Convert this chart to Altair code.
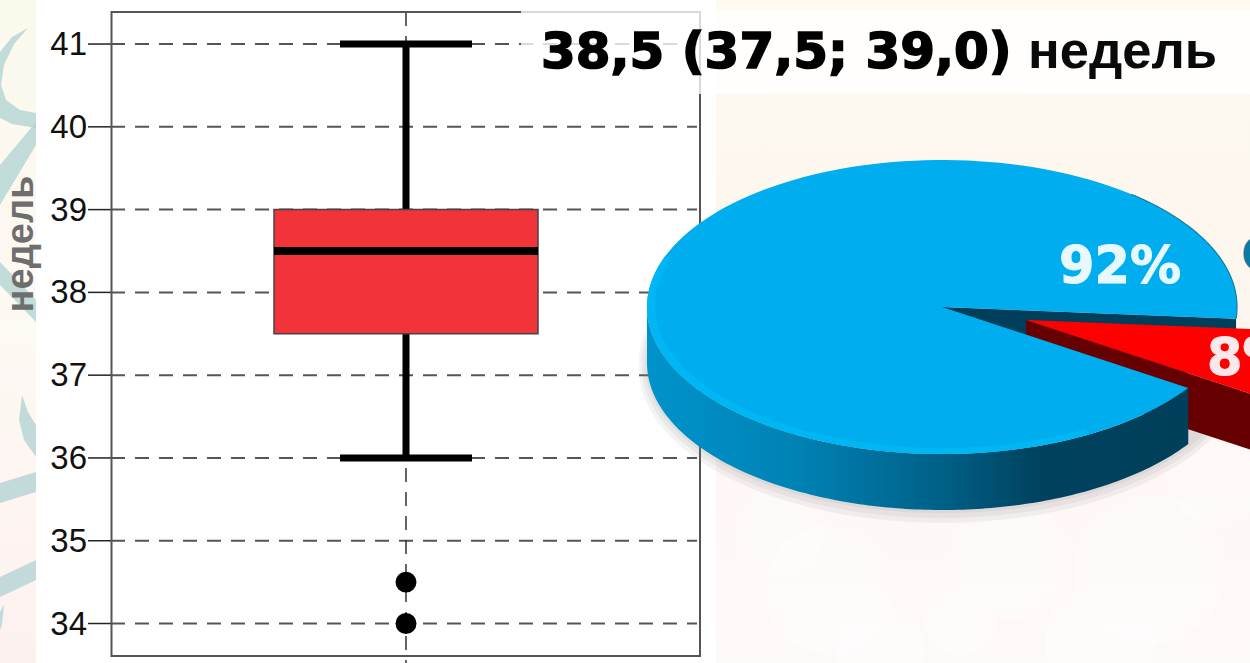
import numpy as np
import altair as alt

# Box plot summary, in weeks
group_pos = [0.0]
box_q1 = [37.5]
box_median = [38.5]
box_q3 = [39.0]
whisker_low = [36.0]
whisker_high = [41.0]
outliers = [34.5, 34.0]
y_ticks = [34, 35, 36, 37, 38, 39, 40, 41]

# Pie shares, percent
pie_labels = ["92%", "8%"]
pie_shares = [92, 8]

W, H = 1250, 663

# Scales stretch over the whole canvas so the panel and the pie can share it
y_scale = alt.Scale(domain=[41.532, 33.523], range=[0, H], nice=False, zero=False)
x_scale = alt.Scale(domain=[-406 / 264, 844 / 264], range=[0, W], nice=False, zero=False)


def one_row(**kw):
    return alt.Data(values=[kw])


def px_rect(x0, x1, y0, y1, **mark):
    return alt.Chart(one_row(k=1)).mark_rect(**mark).encode(
        x=alt.value(x0), x2=alt.value(x1), y=alt.value(y0), y2=alt.value(y1)
    )


def px_text(text, x, y, **mark):
    return alt.Chart(one_row(k=1)).mark_text(**mark).encode(
        x=alt.value(x), y=alt.value(y), text=alt.value(text)
    )


def vertical(field_values, name):
    return alt.Data(values=[{name: v} for v in field_values])


# ---- geometry of the tilted pie, built from the shares ----
CX, CY, RX, RY, DEPTH = 942.0, 307.0, 295.0, 147.0, 56.0
GAP_START = 4.6
GAP_END = GAP_START + pie_shares[1] / sum(pie_shares) * 360
DX, DY = 84.0, 13.0  # pull-out of the small slice


def arc(a0, a1, cx=CX, cy=CY, rx=RX, ry=RY, dy=0.0, n=160):
    t = np.radians(np.linspace(a0, a1, n))
    return [[float(cx + rx * np.cos(v)), float(cy + ry * np.sin(v) + dy)] for v in t]


def feature(coords, kind="Polygon"):
    geom = coords if kind == "LineString" else [coords + [coords[0]]]
    return {"type": "Feature", "properties": {}, "geometry": {"type": kind, "coordinates": geom}}


def shape(coords, kind="Polygon", **mark):
    return alt.Chart(alt.Data(values=[feature(coords, kind)])).mark_geoshape(clip=True, **mark).project(
        type="identity", scale=1, translate=[0, 0]
    )


blue_top = [[CX, CY]] + arc(GAP_END, GAP_START + 360)
blue_side = arc(GAP_END, 180) + arc(180, GAP_END, dy=DEPTH)
e1 = arc(GAP_START, GAP_START, n=1)[0]
blue_wall = [[CX, CY], e1, [e1[0], e1[1] + DEPTH], [CX, CY + DEPTH]]
rim = arc(60, 200) + arc(200, 60, rx=RX - 8, ry=RY - 4, cy=CY - 2)

rcx, rcy = CX + DX, CY + DY
red_top = [[rcx, rcy]] + arc(GAP_START, GAP_END, cx=rcx, cy=rcy)
e2 = arc(GAP_END, GAP_END, cx=rcx, cy=rcy, n=1)[0]
red_side = [[rcx, rcy], e2, [e2[0], e2[1] + DEPTH], [rcx, rcy + DEPTH]]
rim_edge = arc(310, GAP_START + 360)

side_fill = alt.Gradient(
    gradient="linear", x1=0, x2=1, y1=0, y2=0,
    stops=[
        alt.GradientStop(color="#0093cb", offset=0),
        alt.GradientStop(color="#0082b4", offset=0.28),
        alt.GradientStop(color="#005f86", offset=0.55),
        alt.GradientStop(color="#00435f", offset=0.72),
        alt.GradientStop(color="#003f5a", offset=1),
    ],
)
back_fill = alt.Gradient(
    gradient="linear", x1=0, x2=0, y1=0, y2=1,
    stops=[
        alt.GradientStop(color="#fefaf0", offset=0),
        alt.GradientStop(color="#fdf6ee", offset=0.45),
        alt.GradientStop(color="#fef7f6", offset=0.75),
        alt.GradientStop(color="#fef9f9", offset=1),
    ],
)
band_fill = alt.Gradient(
    gradient="linear", x1=0, x2=0, y1=0, y2=1,
    stops=[
        alt.GradientStop(color="#fbf8ec", offset=0),
        alt.GradientStop(color="#fdf9f3", offset=0.5),
        alt.GradientStop(color="#fdf1f0", offset=1),
    ],
)

# ---- slide backdrop ----
swirl_color = "#aed2d2"
swirls = [
    [[28, 28], [12, 37], [0, 52], [0, 118], [12, 124], [36, 128], [36, 113], [20, 110], [6, 100], [1, 85], [4, 65], [14, 44]],
    [[36, 122], [0, 165], [0, 205], [36, 145]],
    [[0, 262], [36, 300], [36, 322], [0, 285]],
    [[22, 395], [19, 420], [24, 440], [36, 457], [36, 425], [28, 412]],
    [[0, 483], [36, 472], [36, 492], [0, 503]],
    [[0, 577], [36, 560], [36, 580], [0, 597]],
    [[0, 612], [4, 604], [2, 625], [0, 630]],
]
blob_x = [830, 1010, 1150, 880, 1100, 960, 780, 1220]
blob_y = [590, 560, 570, 650, 640, 620, 530, 470]
blob_r = [65, 60, 75, 45, 55, 35, 45, 55]

backdrop = [px_rect(0, W, 0, H, fill=back_fill)]
backdrop += [
    shape(arc(0, 360, cx=a, cy=b, rx=c, ry=c, n=60), fill="#ffffff", opacity=0.3, stroke=None)
    for a, b, c in zip(blob_x, blob_y, blob_r)
]
backdrop += [px_rect(0, 36, 0, H, fill=band_fill)]
backdrop += [shape(s, fill=swirl_color, opacity=0.75, stroke=None) for s in swirls]
backdrop += [px_rect(36, 716, 0, H, fill="#ffffff")]

# ---- box plot panel ----
Y = lambda f: alt.Y(f, scale=y_scale, axis=None)
X = lambda f: alt.X(f, scale=x_scale, axis=None)

grid = alt.Chart(vertical(y_ticks, "tick")).mark_rule(
    color="#555555", strokeWidth=2, strokeDash=[14, 10], clip=True
).encode(y=Y("tick:Q"), x=alt.value(111), x2=alt.value(697))

# The value axis is laid out by hand so it can sit inside the wide canvas
tick_marks = alt.Chart(vertical(y_ticks, "tick")).mark_rule(color="#222222", strokeWidth=1.5).encode(
    y=Y("tick:Q"), x=alt.value(88), x2=alt.value(112)
)
tick_labels = alt.Chart(vertical(y_ticks, "tick")).mark_text(
    font="Liberation Sans", fontSize=33, color="#111111", align="right", baseline="middle", dy=1
).encode(y=Y("tick:Q"), x=alt.value(87), text=alt.Text("tick:Q", format="d"))

center_line = alt.Chart(vertical(group_pos, "pos")).mark_rule(
    color="#333333", strokeWidth=1.5, strokeDash=[14, 10]
).encode(x=X("pos:Q"), y=alt.value(12), y2=alt.value(663))

frame = px_rect(111.5, 700, 12, 656, fill="transparent", stroke="#555555", strokeWidth=2)

summary = alt.Data(values=[{
    "pos": p, "q1": a, "med": b, "q3": c, "lo": d, "hi": e, "left": p - 0.5, "right": p + 0.5,
    "capl": p - 0.25, "capr": p + 0.25,
} for p, a, b, c, d, e in zip(group_pos, box_q1, box_median, box_q3, whisker_low, whisker_high)])

whisker = alt.Chart(summary).mark_rule(color="black", strokeWidth=7).encode(
    x=X("pos:Q"), y=Y("lo:Q"), y2="hi:Q"
)
cap_top = alt.Chart(summary).mark_rule(color="black", strokeWidth=7).encode(
    x=X("capl:Q"), x2="capr:Q", y=Y("hi:Q")
)
cap_bottom = alt.Chart(summary).mark_rule(color="black", strokeWidth=7).encode(
    x=X("capl:Q"), x2="capr:Q", y=Y("lo:Q")
)
box = alt.Chart(summary).mark_rect(fill="#f2333a", stroke="#444444", strokeWidth=1.5).encode(
    x=X("left:Q"), x2="right:Q", y=Y("q3:Q"), y2="q1:Q"
)
median = alt.Chart(summary).mark_rule(color="black", strokeWidth=8).encode(
    x=X("left:Q"), x2="right:Q", y=Y("med:Q")
)
points = alt.Chart(alt.Data(values=[{"pos": group_pos[0], "w": v} for v in outliers])).mark_point(
    filled=True, color="black", size=440, opacity=1
).encode(x=X("pos:Q"), y=Y("w:Q"))

panel = [grid, tick_marks, tick_labels, center_line, frame, whisker, cap_top, cap_bottom, box, median, points]
panel.append(px_text("недель", 33, 244, font="Liberation Sans", fontWeight="bold", fontSize=38,
                     color="#6e6e6e", angle=270, align="center", baseline="alphabetic"))

# ---- heading strip ----
heading = [
    px_rect(521, W, 10, 94, fill="#ffffff", opacity=0.78),
    px_text("38,5 (37,5; 39,0)", 541, 68, font="DejaVu Sans", fontWeight="bold", fontSize=50,
            color="#000000", stroke="#000000", strokeWidth=1.6, align="left", baseline="alphabetic"),
    px_text("недель", 1028, 68, font="Liberation Sans", fontWeight="bold", fontSize=52.5,
            color="#0a0a0a", align="left", baseline="alphabetic"),
]

# ---- pie ----
shadow = [
    shape(arc(0, 180, rx=RX + g, ry=RY + g, dy=DEPTH + g * 0.6) + arc(180, 360, rx=RX + g, ry=RY + g, dy=DEPTH),
          fill="#8a8a8a", opacity=0.1, stroke=None)
    for g in (8, 5, 2)
]
pie = shadow + [
    shape(blue_wall, fill="#003f5c", stroke=None),
    shape(red_side, fill="#660000", stroke=None),
    shape(red_top, fill="#ff0000", stroke=None),
    shape(blue_side, fill=side_fill, stroke=None),
    shape(blue_top, fill="#00aeef", stroke=None),
    shape(rim, fill="#00b6f3", stroke=None),
    shape(rim_edge, "LineString", filled=False, stroke="#0a7fa8", strokeWidth=1.2),
    px_text(pie_labels[0], 1059, 283, font="DejaVu Sans", fontWeight="bold", fontSize=51,
            color="#e8f8ff", stroke="#e8f8ff", strokeWidth=1, align="left", baseline="alphabetic"),
    px_text(pie_labels[1], 1207, 375, font="DejaVu Sans", fontWeight="bold", fontSize=51,
            color="#fce8ea", stroke="#fce8ea", strokeWidth=1, align="left", baseline="alphabetic"),
    px_text("С", 1241, 271, font="DejaVu Sans", fontWeight="bold", fontSize=48,
            color="#0a7ba5", align="left", baseline="alphabetic"),
]

chart = alt.layer(*(backdrop + panel + heading + pie)).properties(
    width=W, height=H, padding=0, autosize=alt.AutoSizeParams(type="none")
).configure_view(stroke=None)

chart.save("out.html", embed_options={"renderer": "svg", "actions": False})
